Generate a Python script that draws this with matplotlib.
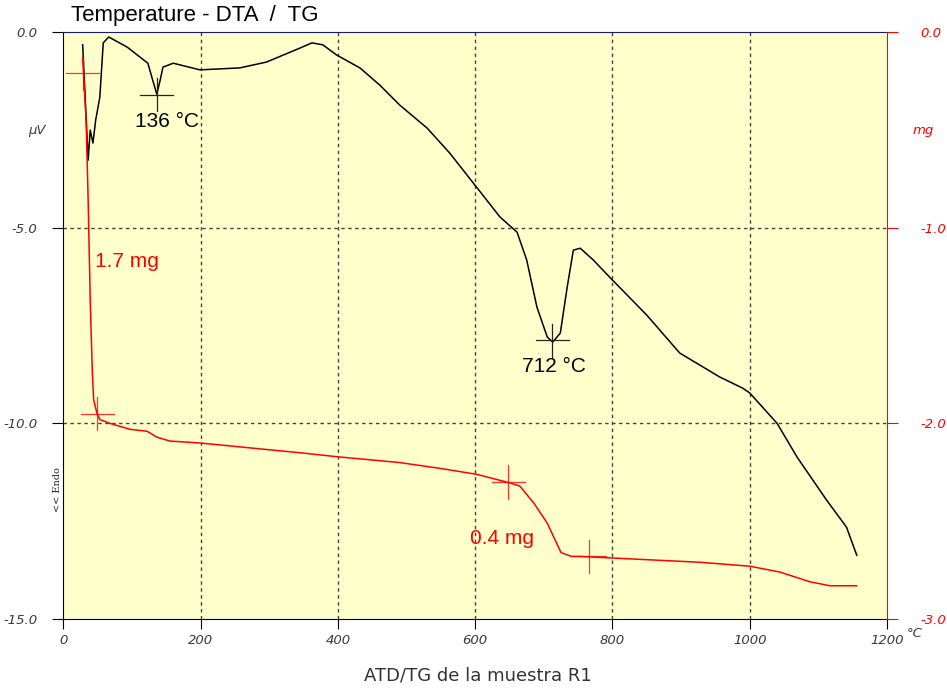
import numpy as np
import matplotlib.pyplot as plt

# DTA curve (black, left axis, µV)
dta_T = [28, 36, 39, 43, 47, 53, 58, 66, 93, 123, 130, 136, 141, 145, 160, 199, 257,
         296, 345, 362, 378, 398, 432, 461, 490, 530, 563, 602, 636, 661, 675, 690,
         705, 713, 724, 734, 743, 753, 772, 797, 850, 898, 956, 990, 1000, 1040, 1069,
         1112, 1141, 1156]
dta_uv = [-0.32, -3.27, -2.50, -2.83, -2.24, -1.66, -0.27, -0.12, -0.38, -0.79, -1.22,
          -1.58, -1.22, -0.89, -0.79, -0.96, -0.91, -0.76, -0.40, -0.27, -0.32, -0.58,
          -0.91, -1.35, -1.86, -2.45, -3.09, -3.96, -4.72, -5.11, -5.82, -7.03, -7.79,
          -7.92, -7.69, -6.52, -5.57, -5.52, -5.82, -6.28, -7.23, -8.20, -8.81, -9.10,
          -9.22, -10.00, -10.86, -11.96, -12.65, -13.37]

# TG curve (red, right axis, mg)
tg_T = [28, 33, 36, 39, 42, 44, 49, 53, 68, 97, 122, 136, 155, 199, 345, 398, 490,
        549, 602, 646, 665, 686, 705, 725, 740, 753, 811, 928, 1000, 1044, 1088, 1117,
        1156]
tg_mg = [-0.13, -0.45, -0.86, -1.37, -1.73, -1.88, -1.95, -1.98, -2.00, -2.03, -2.04,
         -2.07, -2.09, -2.10, -2.15, -2.17, -2.20, -2.23, -2.26, -2.30, -2.32, -2.41,
         -2.51, -2.66, -2.68, -2.68, -2.69, -2.71, -2.73, -2.76, -2.81, -2.83, -2.83]

# peak marks and mass loss marks
peak_T = [136, 712]
peak_uv = [-1.60, -7.87]
peak_txt = ["136 °C", "712 °C"]
peak_dx = [15, 3]
step_T = [28, 49, 648, 766]
step_mg = [-0.21, -1.95, -2.30, -2.68]
loss_txt = ["1.7 mg", "0.4 mg"]
loss_pos = [(46, -1.17), (592, -2.59)]

xticks = [0, 200, 400, 600, 800, 1000, 1200]
yticks_uv = [0.0, -5.0, -10.0, -15.0]
yticks_mg = [0.0, -1.0, -2.0, -3.0]

gray = "#3a3a3a"
tickfont = dict(family="DejaVu Sans", style="italic", size=9.5)

fig = plt.figure(figsize=(9.47, 6.89), dpi=100)
ax = fig.add_axes([0.067, 0.1016, 0.8696, 0.8515])
ax.set_facecolor("#ffffcc")
ax.set_xlim(0, 1200)
ax.set_ylim(-15, 0)

for t in xticks[1:-1]:
    ax.axvline(t, color="#444444", lw=1, ls=(0, (2.5, 2.5)), zorder=1)
for v in yticks_uv[1:-1]:
    ax.axhline(v, color="#444444", lw=1, ls=(0, (2.5, 2.5)), zorder=1)

ax.plot(dta_T, dta_uv, color="black", lw=1.1, zorder=3)

# black crosses at peaks
for t, v, s, dx in zip(peak_T, peak_uv, peak_txt, peak_dx):
    ax.plot([t - 24, t + 24], [v, v], color="#222222", lw=0.9, zorder=3)
    ax.plot([t, t], [v - 0.42, v + 0.42], color="#222222", lw=0.9, zorder=3)
    ax.text(t + dx, v - 0.68, s, ha="center", va="center", fontsize=15,
            family="Liberation Sans", color="black")

ax.set_xticks(xticks)
ax.set_yticks(yticks_uv)
ax.set_xticklabels([str(t) for t in xticks], **tickfont, color=gray)
ax.set_yticklabels([f"{v:.1f}" for v in yticks_uv], **tickfont, color=gray)
ax.tick_params(axis="y", direction="out", length=8, pad=11, color="black")
ax.tick_params(axis="x", direction="out", length=7, pad=4, color="black")
ax.spines["top"].set_color("#1a1a80")
ax.spines["right"].set_visible(False)

ax2 = ax.twinx()
ax2.set_ylim(-3, 0)
ax2.plot(tg_T, tg_mg, color="red", lw=1.1, zorder=3)
for t, v in zip(step_T, step_mg):
    ax2.plot([t - 24, t + 24], [v, v], color="red", lw=0.9, alpha=0.8)
    ax2.plot([t, t], [v - 0.085, v + 0.085], color="red", lw=0.9, alpha=0.8)
for s, (t, v) in zip(loss_txt, loss_pos):
    ax2.text(t, v, s, ha="left", va="center", fontsize=15, family="Liberation Sans", color="red")
ax2.set_yticks(yticks_mg)
ax2.set_yticklabels([f"{v:.1f}" for v in yticks_mg], **tickfont, color="red")
ax2.tick_params(axis="y", direction="out", length=8, pad=16, color="red")
ax2.spines["right"].set_color("red")
ax2.spines["top"].set_visible(False)
ax2.spines["left"].set_visible(False)
ax2.spines["bottom"].set_visible(False)

fig.text(0.039, 0.811, "µV", ha="center", va="center", color=gray, **tickfont)
fig.text(0.975, 0.811, "mg", ha="center", va="center", color="red", **tickfont)
fig.text(0.966, 0.081, "°C", ha="center", va="center", color=gray, **tickfont)
fig.text(0.061, 0.289, "<< Endo", rotation=90, ha="center", va="center",
         fontsize=7, family="DejaVu Serif", color="#222222")
fig.text(0.075, 0.978, "Temperature - DTA  /  TG", ha="left", va="center",
         fontsize=16, family="Liberation Sans", color="black")
fig.text(0.505, 0.020, "ATD/TG de la muestra R1", ha="center", va="center",
         fontsize=13, family="DejaVu Sans", color="#333333")

fig.savefig("out.png", dpi=100, facecolor="white")
